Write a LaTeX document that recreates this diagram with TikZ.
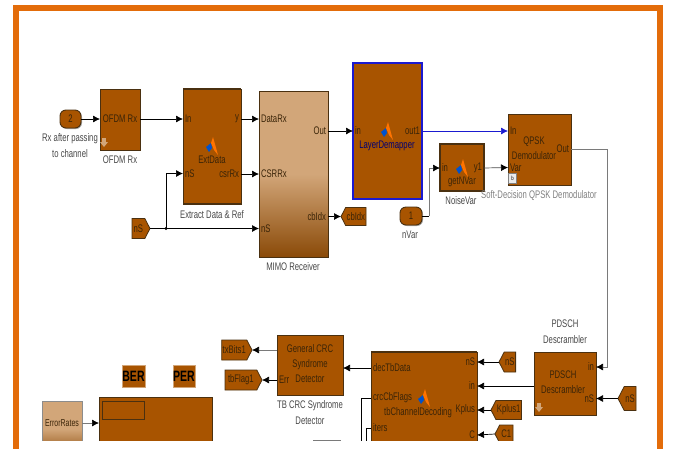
\documentclass[tikz,border=0pt]{standalone}
\usepackage{fontspec}
\setmainfont{Liberation Sans}[FakeStretch=0.7]
\usetikzlibrary{arrows.meta,shapes.symbols,shadows}
\definecolor{blockBrown}{HTML}{A85400}
\definecolor{blockTan}{HTML}{D2A679}
\definecolor{blockDark}{HTML}{8A4A08}
\definecolor{edgeDark}{HTML}{4A3010}
\definecolor{frameOrange}{HTML}{E36C0A}
\definecolor{inkBrown}{HTML}{3A2408}
\definecolor{wireGray}{HTML}{7A7A7A}
\definecolor{selBlue}{HTML}{1A1AD0}
\tikzset{
  block/.style={draw=edgeDark,fill=blockBrown,line width=0.9pt,outer sep=0pt,anchor=north west,
    drop shadow={shadow xshift=1pt,shadow yshift=-1pt,opacity=.35,fill=black}},
  tanblock/.style={block,top color=blockTan,bottom color=blockDark,middle color=blockTan},
  term/.style={block,anchor=center,rounded corners=6pt,minimum width=21pt,minimum height=18pt,inner sep=0pt,font=\fontsize{11}{13}\selectfont,text=inkBrown},
  tagright/.style={draw=edgeDark,fill=blockBrown,line width=0.8pt,signal,signal to=east,signal pointer angle=125,
    inner xsep=1pt,inner ysep=2pt,outer sep=0pt,anchor=east,font=\fontsize{11}{13}\selectfont,text=inkBrown},
  tagleft/.style={tagright,signal to=west,anchor=west},
  portin/.style={anchor=west,inner xsep=2pt,inner ysep=0pt,outer sep=0pt,font=\fontsize{11}{13}\selectfont,text=inkBrown},
  portout/.style={portin,anchor=east},
  inner/.style={anchor=center,align=center,inner sep=0pt,font=\fontsize{11}{15}\selectfont,text=inkBrown},
  caption/.style={anchor=center,align=center,inner sep=0pt,font=\fontsize{11}{16}\selectfont,text=black!72},
  wire/.style={draw=black,line width=0.7pt,-{Latex[length=7pt,width=7pt]}},
  greywire/.style={wire,draw=wireGray,-{Latex[length=7pt,width=7pt,black]}},
  plain/.style={draw=black,line width=0.7pt},
  matlabicon/.pic={
    \fill[blue!60!cyan!80!black] (-6,1) -- (-1,-3) -- (0,2) -- (-3,6) -- cycle;
    \fill[orange!90!red] (1,-9) -- (6,9) -- (2,4) -- (-1,-3) -- cycle;
  },
  downicon/.pic={
    \fill[blockTan] (-1.8,-4) rectangle (1.8,0) (-4,0) -- (4,0) -- (0,5) -- cycle;
  }
}
\begin{document}
\begin{tikzpicture}[x=1pt,y=-1pt]
  \useasboundingbox (0,0) rectangle (677,448);

  % upper row
  \node[term] (rxIn) at (70.5,119) {2};
  \node[caption] (rxLabel) at (70,146) {Rx after passing\\to channel};
  \node[block,minimum width=40pt,minimum height=61pt] (ofdm) at (100,89) {};
  \node[inner] (ofdmName) at (120,119) {OFDM Rx};
  \node[caption] (ofdmLabel) at (120,160) {OFDM Rx};
  \pic at (104,142) {downicon};
  \coordinate (ofdmIn) at (100,119);
  \coordinate (ofdmOut) at (140,119);

  \node[block,minimum width=58pt,minimum height=115pt] (ext) at (183,89) {};
  \draw[edgeDark,line width=2pt] (ext.north west) -- (ext.north east);
  \draw[edgeDark,line width=2pt] (ext.south west) -- (ext.south east);
  \pic at (212,146) {matlabicon};
  \node[inner] (extName) at (212,160) {ExtData};
  \node[portin] (extA) at (183,119) {In};
  \node[portin] (extB) at (183,173.5) {nS};
  \node[portout] (extY) at (241,119) {y};
  \node[portout] (extC) at (241,174) {csrRx};
  \node[caption] (extLabel) at (212,215) {Extract Data \& Ref};

  \node[tanblock,minimum width=69pt,minimum height=166pt] (mimo) at (259,91) {};
  \node[portin] (mimoA) at (259,119) {DataRx};
  \node[portin] (mimoB) at (259,174) {CSRRx};
  \node[portin] (mimoC) at (259,228.5) {nS};
  \node[portout] (mimoOut) at (328,131) {Out};
  \node[portout] (mimoIdx) at (328,216.5) {cbIdx};
  \node[caption] (mimoLabel) at (293,267) {MIMO Receiver};
  \node[tagright,minimum width=18pt,minimum height=20pt] (nsTagA) at (150,228.5) {nS};
  \coordinate (nsJoin) at (166,228.5);

  \node[block,draw=selBlue,line width=1.3pt,minimum width=69pt,minimum height=136pt] (layer) at (353,63) {};
  \pic at (387,131) {matlabicon};
  \node[inner,text=blue!45!black] (layerName) at (387,146) {LayerDemapper};
  \node[portin] (layerIn) at (353,131) {in};
  \node[portout] (layerOut) at (422,131) {out1};
  \node[tagleft,minimum width=23pt,minimum height=18pt] (idxTag) at (341,216.5) {cbIdx};

  \node[block,line width=1.3pt,minimum width=44pt,minimum height=47pt] (noise) at (440,144) {};
  \pic at (462,168) {matlabicon};
  \node[inner] (noiseName) at (462,182) {getNVar};
  \node[portin] (noiseIn) at (440,168) {in};
  \node[portout] (noiseOut) at (484,168) {y1};
  \node[caption] (noiseLabel) at (461,201) {NoiseVar};
  \node[term,minimum width=22pt] (varIn) at (411,216) {1};
  \node[caption] (varLabel) at (410,235) {nVar};
  \coordinate (varBend) at (429,216);

  \node[block,minimum width=63pt,minimum height=71pt] (qpsk) at (508,114) {};
  \node[inner] (qpskName) at (534,148.5) {QPSK\\Demodulator};
  \node[portin] (qpskA) at (508,131) {In};
  \node[portin] (qpskB) at (508,167.5) {Var};
  \node[portout] (qpskOut) at (571,149) {Out};
  \node[draw=black!50,fill=black!8,minimum width=8pt,minimum height=10pt,inner sep=0pt,font=\fontsize{6}{6}\selectfont] (qpskMark) at (512.5,178) {b};
  \node[caption,text=black!50] (qpskLabel) at (539,196) {Soft-Decision QPSK Demodulator};
  \coordinate (qpskBend) at (607,149);

  % lower row
  \node[block,minimum width=62pt,minimum height=63pt] (descr) at (534,352) {};
  \node[inner] (descrName) at (563,382) {PDSCH\\Descrambler};
  \pic at (539,407) {downicon};
  \node[portout] (descrA) at (596,367) {in};
  \node[portout] (descrB) at (596,398.5) {nS};
  \coordinate (descrOut) at (534,386);
  \node[caption] (descrLabel) at (565,332) {PDSCH\\Descrambler};
  \node[tagleft,minimum width=18pt,minimum height=24pt] (nsTagC) at (618,398.5) {nS};

  \node[block,minimum width=106pt,minimum height=100pt] (tb) at (371,352) {};
  \draw[edgeDark,line width=2pt] (tb.north west) -- (tb.north east);
  \pic at (424,398) {matlabicon};
  \node[inner] (tbName) at (418,413) {tbChannelDecoding};
  \node[portin] (tbA) at (371,368) {decTbData};
  \node[portin] (tbB) at (371,398) {crcCbFlags};
  \node[portin] (tbC) at (371,428) {iters};
  \node[portout] (tbD) at (477,362) {nS};
  \node[portout] (tbE) at (477,386) {in};
  \node[portout] (tbF) at (477,410) {Kplus};
  \node[portout] (tbG) at (477,435) {C};
  \node[tagleft,minimum width=14pt,minimum height=20pt] (nsTagB) at (499,362) {nS};
  \node[tagleft,minimum width=28pt,minimum height=19pt] (kplusTag) at (491,410) {Kplus1};
  \node[tagleft,minimum width=18pt,minimum height=18pt] (cTag) at (495,434) {C1};
  \coordinate (tbBFoot) at (361,448);
  \coordinate (tbCFoot) at (366,448);
  \coordinate (stubA) at (313,440.5);
  \coordinate (stubB) at (341,440.5);

  \node[block,minimum width=66pt,minimum height=60pt] (crc) at (277,335) {};
  \node[inner] (crcName) at (310,364) {General CRC\\Syndrome\\Detector};
  \node[portin] (crcErr) at (277,380) {Err};
  \coordinate (crcOut) at (277,350);
  \node[caption] (crcLabel) at (310,413) {TB CRC Syndrome\\Detector};
  \node[tagright,minimum width=29pt,minimum height=20pt] (bitsTag) at (252,350) {txBits1};
  \node[tagright,minimum width=37pt,minimum height=20pt] (flagTag) at (262,380) {tbFlag1};

  \node[draw=blockTan,fill=blockBrown,minimum width=23pt,minimum height=22pt,inner sep=0pt,font=\fontsize{15}{15}\selectfont\bfseries] (ber) at (133.5,376) {BER};
  \node[draw=blockTan,fill=blockBrown,minimum width=22pt,minimum height=22pt,inner sep=0pt,font=\fontsize{15}{15}\selectfont\bfseries] (per) at (184,376) {PER};
  \node[block,minimum width=113pt,minimum height=60pt] (scope) at (99,397) {};
  \node[draw=edgeDark,anchor=north west,minimum width=42pt,minimum height=18pt,inner sep=0pt] (scopeBar) at (102,401) {};
  \node[tanblock,draw=black!45,minimum width=40pt,minimum height=56pt] (errors) at (42,401) {};
  \node[inner,font=\fontsize{10}{12}\selectfont] (errorsName) at (62,423) {ErrorRates};

  % connectors
  \draw[wire] (rxIn) -- (ofdmIn);
  \draw[wire] (ofdmOut) -- (extA.west);
  \draw[wire] (extY.east) -- (mimoA.west);
  \draw[wire] (extC.east) -- (mimoB.west);
  \draw[wire] (nsTagA.east) -- (mimoC.west);
  \draw[wire] (nsJoin) |- (extB.west);
  \fill (nsJoin) circle (1.7pt);
  \draw[wire] (mimoOut.east) -- (layerIn.west);
  \draw[wire] (mimoIdx.east) -- (idxTag.west);
  \draw[wire,draw=selBlue,-{Latex[length=7pt,width=7pt,selBlue]}] (layerOut.east) -- (qpskA.west);
  \draw[plain] (varIn) -- (varBend);
  \draw[greywire] (varBend) |- (noiseIn.west);
  \draw[wire,draw=black!70,-{Latex[length=7pt,width=7pt,black]}] (noiseOut.east) -- (qpskB.west);
  \draw[plain,draw=wireGray] (qpskOut.east) -- (qpskBend);
  \draw[greywire] (qpskBend) |- (descrA.east);
  \draw[wire] (nsTagC.west) -- (descrB.east);
  \draw[wire] (descrOut) -- (tbE.east);
  \draw[wire] (nsTagB.west) -- (tbD.east);
  \draw[wire] (kplusTag.west) -- (tbF.east);
  \draw[wire] (cTag.west) -- (tbG.east);
  \draw[wire] (tbA.west) -- (crc.east |- tbA.west);
  \draw[greywire] (crcOut) -- (bitsTag.east);
  \draw[wire] (crcErr.west) -- (flagTag.east);
  \draw[greywire] (errors.east |- errorsName) -- (scope.west |- errorsName);
  \draw[plain] (tbB.west) -| (tbBFoot);
  \draw[plain] (tbC.west) -| (tbCFoot);
  \draw[plain,draw=wireGray] (stubA) -- (stubB);

  % cut-off foot and frame
  \fill[white] (19,441) rectangle (657,452);
  \draw[frameOrange,line width=6pt] (16,452) -- (16,8) -- (660,8) -- (660,452);
\end{tikzpicture}
\end{document}
